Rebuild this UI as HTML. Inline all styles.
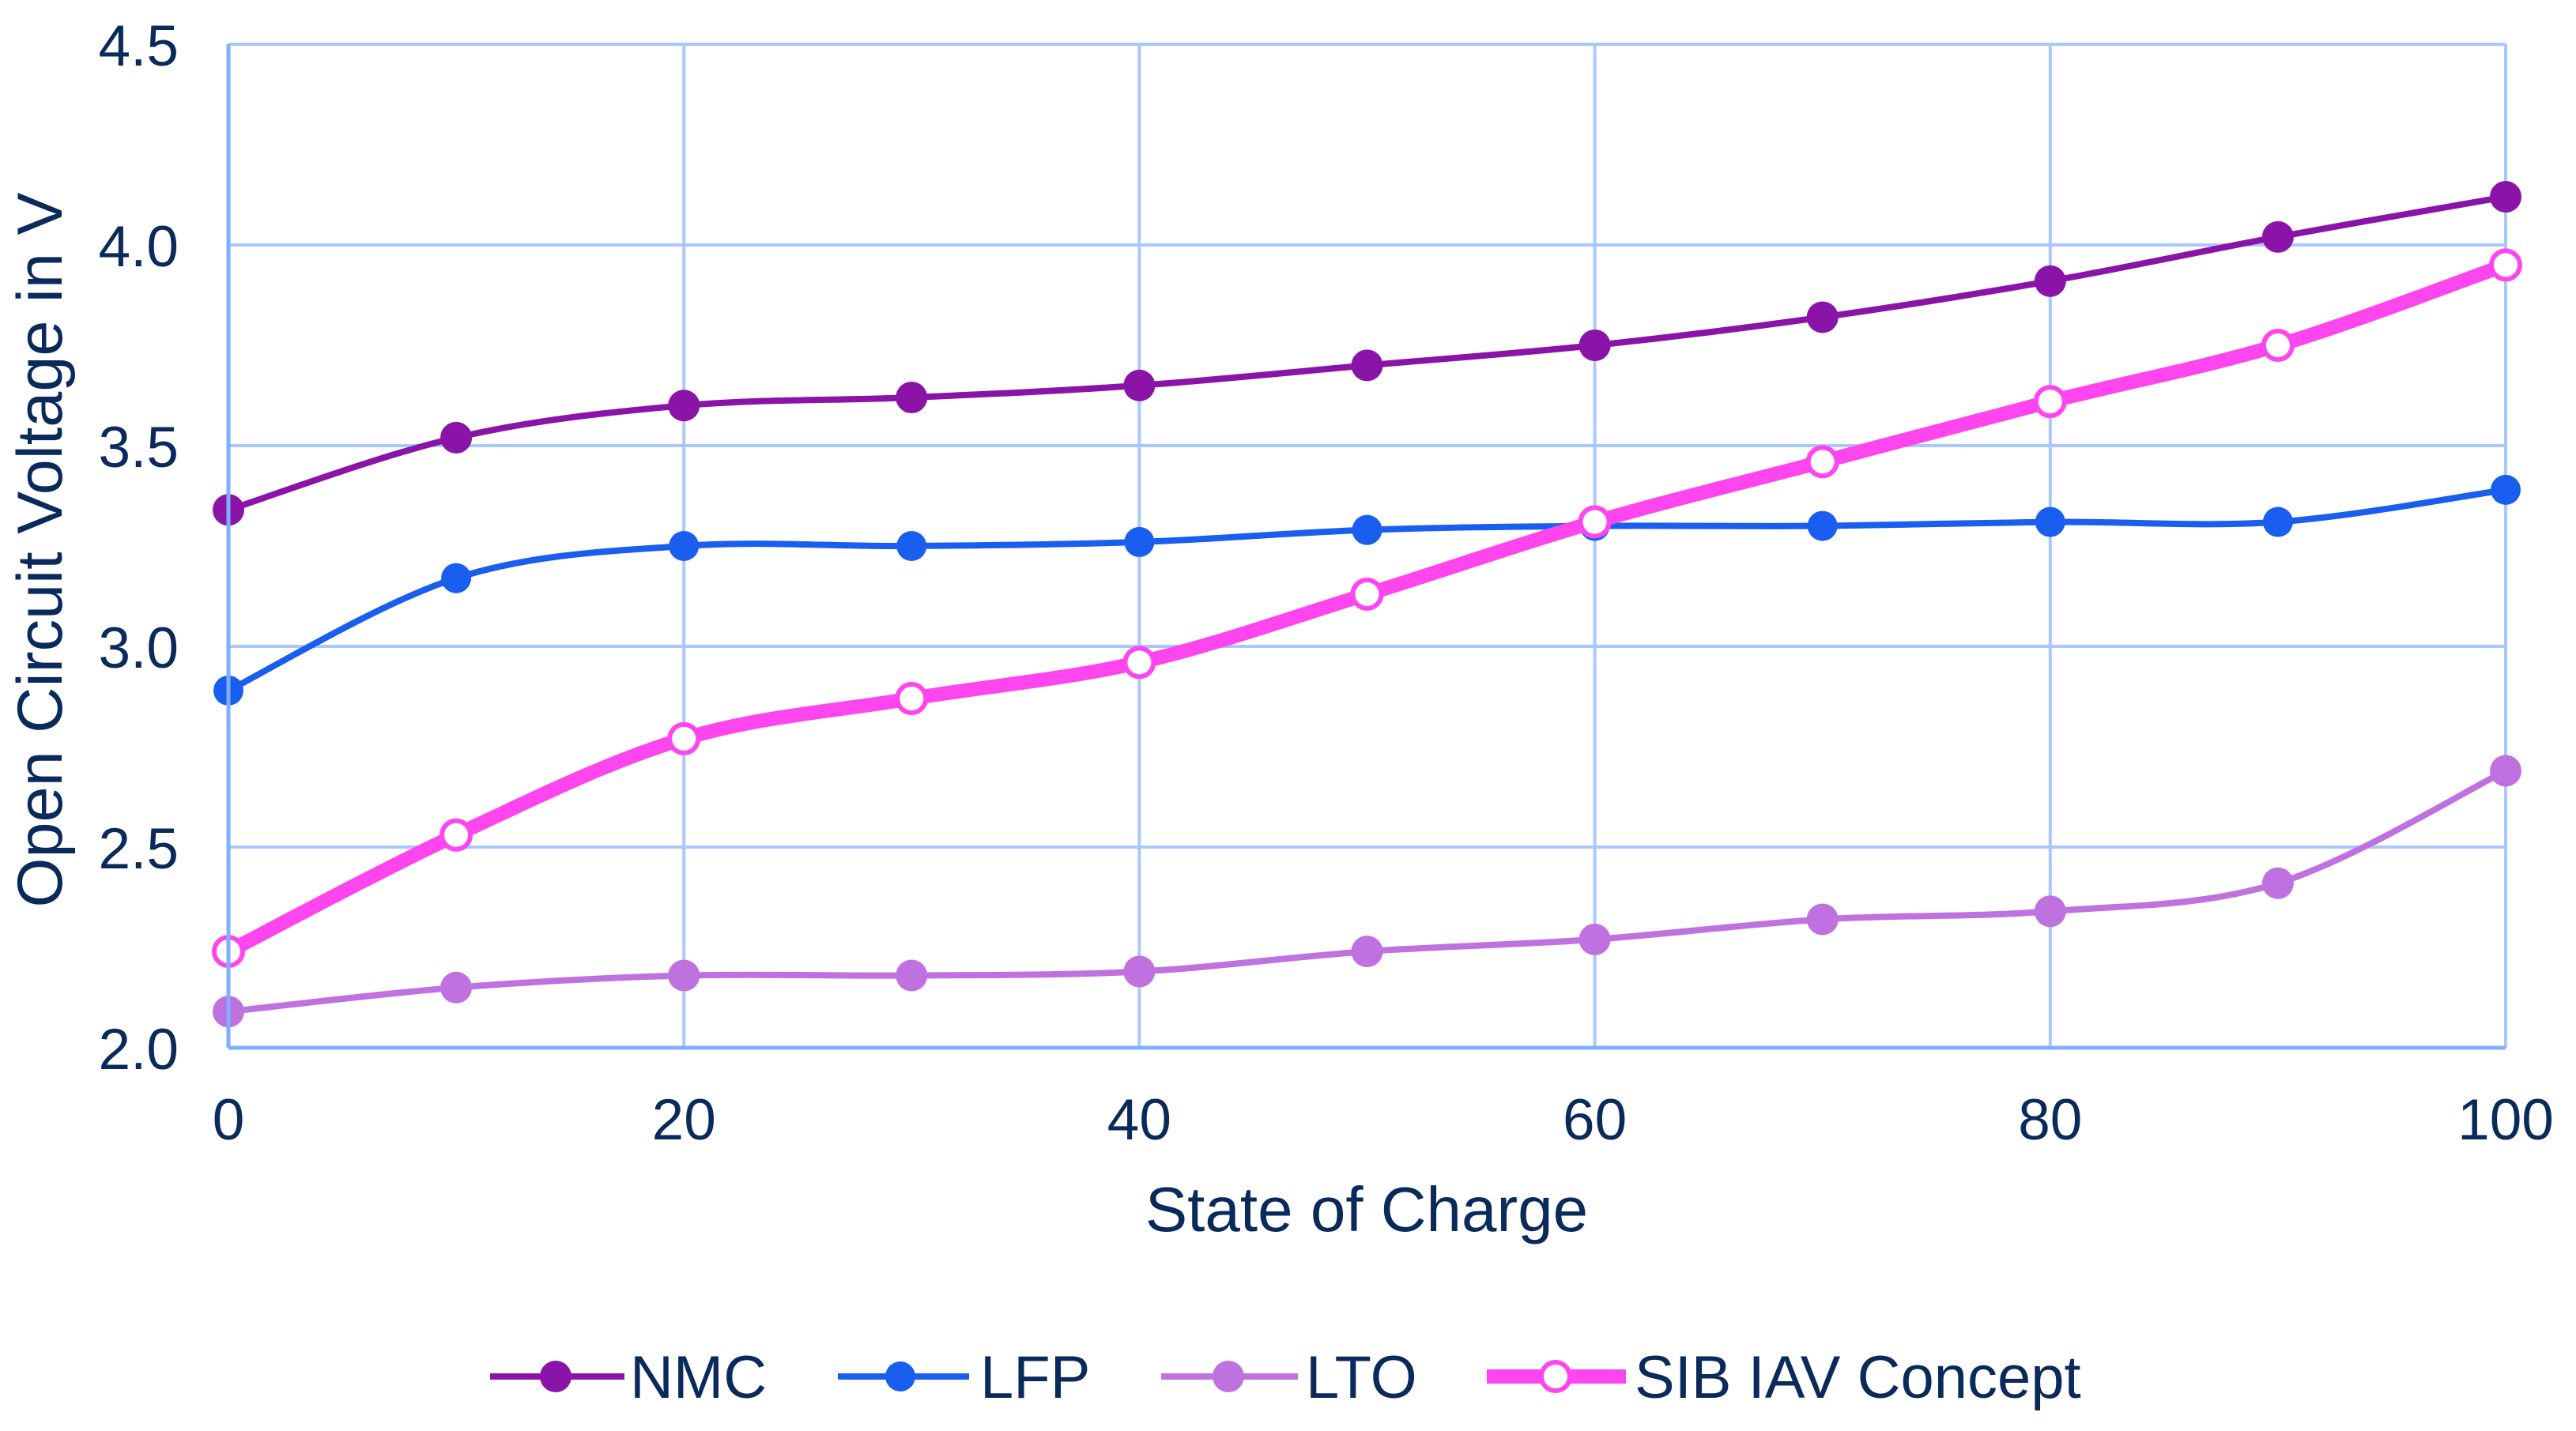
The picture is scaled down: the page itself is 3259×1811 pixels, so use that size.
<!DOCTYPE html>
<html><head><meta charset="utf-8"><style>
html,body{margin:0;padding:0;background:#fff;}
svg{display:block;font-family:"Liberation Sans",Arial,sans-serif;}
</style></head><body>
<svg id="chart" width="3259" height="1811" viewBox="0 0 3259 1811" xmlns="http://www.w3.org/2000/svg">
<g id="grid"></g>
<g id="series"></g>
<g id="axes"></g>
<text x="1729" y="1558" text-anchor="middle" font-size="80" fill="#0b2a5c">State of Charge</text>
<text x="0" y="0" transform="translate(78,696) rotate(-90)" text-anchor="middle" font-size="81" fill="#0b2a5c">Open Circuit Voltage in V</text>
<g id="legend"></g>
</svg>
<script>
const categories=[0,10,20,30,40,50,60,70,80,90,100];
const nmcValues=[3.34,3.52,3.60,3.62,3.65,3.70,3.75,3.82,3.91,4.02,4.12];
const lfpValues=[2.89,3.17,3.25,3.25,3.26,3.29,3.30,3.30,3.31,3.31,3.39];
const ltoValues=[2.09,2.15,2.18,2.18,2.19,2.24,2.27,2.32,2.34,2.41,2.69];
const sibValues=[2.24,2.53,2.77,2.87,2.96,3.13,3.31,3.46,3.61,3.75,3.95];
const xTicks=[0,20,40,60,80,100];
const yTicks=[2.0,2.5,3.0,3.5,4.0,4.5];
const seriesNames=["NMC","LFP","LTO","SIB IAV Concept"];

const NS="http://www.w3.org/2000/svg";
const X0=289,X1=3170,Y0=1326,Y1=56;
function xs(v){return X0+(v-0)/(100-0)*(X1-X0);}
function ys(v){return Y0-(v-2.0)/(4.5-2.0)*(Y0-Y1);}
function mk(tag,attrs,parent){const e=document.createElementNS(NS,tag);for(const k in attrs)e.setAttribute(k,attrs[k]);parent.appendChild(e);return e;}
const grid=document.getElementById('grid'),axes=document.getElementById('axes'),ser=document.getElementById('series'),leg=document.getElementById('legend');
const gridCol="#a9c8ff";
for(const t of xTicks){
  const l=mk('line',{x1:xs(t),x2:xs(t),y1:Y1,y2:Y0,stroke:gridCol,'stroke-width':4},grid);
  
  
}
for(const t of yTicks){
  const l=mk('line',{x1:X0,x2:X1,y1:ys(t),y2:ys(t),stroke:gridCol,'stroke-width':4},grid);
  
  
  const tx=mk('text',{x:226,y:ys(t)+27,'text-anchor':'end','font-size':73,fill:'#0b2a5c'},axes);
  tx.textContent=t.toFixed(1);
  
  
}
{const l=mk('line',{x1:X0,x2:X0,y1:Y1,y2:Y0,stroke:'#7fb0ff','stroke-width':5},axes);


const b=mk('line',{x1:X0,x2:X1,y1:Y0,y2:Y0,stroke:'#7fb0ff','stroke-width':5},axes);

}
for(const t of xTicks){
  const tx=mk('text',{x:xs(t),y:1442,'text-anchor':'middle','font-size':73,fill:'#0b2a5c'},axes);
  tx.textContent=String(t);
  
  
}
function smooth(pts){
  let d=`M${pts[0][0]},${pts[0][1]}`;
  for(let i=0;i<pts.length-1;i++){
    const p0=pts[Math.max(0,i-1)],p1=pts[i],p2=pts[i+1],p3=pts[Math.min(pts.length-1,i+2)];
    const c1=[p1[0]+(p2[0]-p0[0])/6,p1[1]+(p2[1]-p0[1])/6];
    const c2=[p2[0]-(p3[0]-p1[0])/6,p2[1]-(p3[1]-p1[1])/6];
    d+=` C${c1[0]},${c1[1]} ${c2[0]},${c2[1]} ${p2[0]},${p2[1]}`;
  }
  return d;
}
const styles=[
 {vals:nmcValues,col:'#8a14a8',w:8,r:20,hollow:false,key:'nmc'},
 {vals:lfpValues,col:'#1a5ef0',w:8,r:19,hollow:false,key:'lfp'},
 {vals:ltoValues,col:'#c071e0',w:8,r:20,hollow:false,key:'lto'},
 {vals:sibValues,col:'#ff45ee',w:18,r:18,hollow:true,key:'sib'}
];
for(const s of styles){
  const g=mk('g',{},ser);
  
  
  const pts=categories.map((c,i)=>[xs(c),ys(s.vals[i])]);
  const p=mk('path',{d:smooth(pts),fill:'none',stroke:s.col,'stroke-width':s.w,'stroke-linecap':'round'},g);
  
  
  for(const q of pts){
    const c=mk('circle',{cx:q[0],cy:q[1],r:s.r,fill:s.hollow?'#fff':s.col,stroke:s.col,'stroke-width':s.hollow?6:0},g);
    
    
  }
}
const legX=[[620,790,703,797],[1060,1226,1139,1240],[1469,1642,1554,1652],[1881,2057,1968,2068]];
styles.forEach((s,i)=>{
  const g=mk('g',{},leg);
  
  
  const L=legX[i],y=1742;
  mk('line',{x1:L[0],x2:L[1],y1:y,y2:y,stroke:s.col,'stroke-width':s.w},g);
  mk('circle',{cx:L[2],cy:y,r:s.r,fill:s.hollow?'#fff':s.col,stroke:s.col,'stroke-width':s.hollow?6:0},g);
  const t=mk('text',{x:L[3],y:y+27,'font-size':76,fill:'#0b2a5c'},g);
  t.textContent=seriesNames[i];
});
</script>
</body></html>
